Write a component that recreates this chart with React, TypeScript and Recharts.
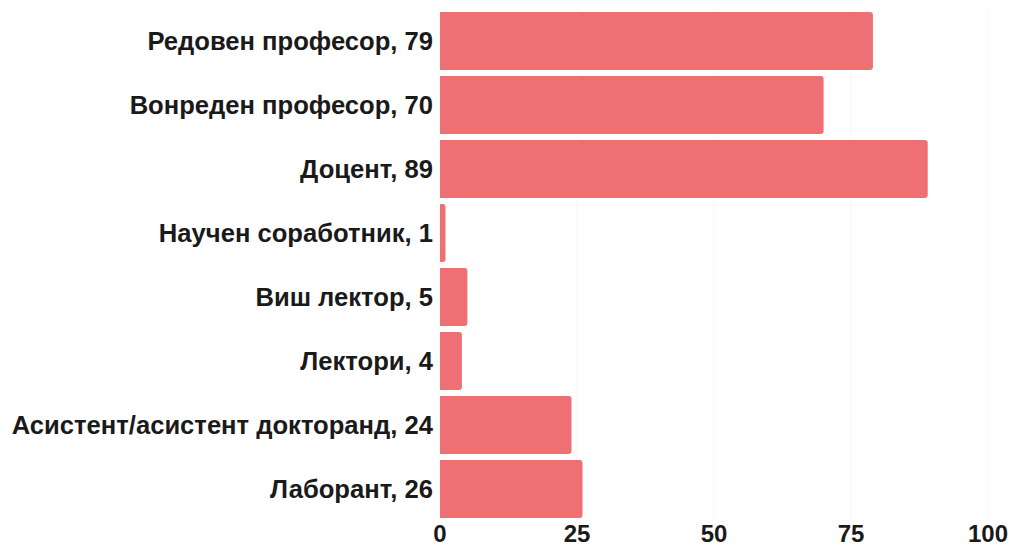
import { BarChart, Bar, XAxis, YAxis, CartesianGrid } from "recharts";

const positions = [
  "Редовен професор",
  "Вонреден професор",
  "Доцент",
  "Научен соработник",
  "Виш лектор",
  "Лектори",
  "Асистент/асистент докторанд",
  "Лаборант",
];
const counts = [79, 70, 89, 1, 5, 4, 24, 26];
const xTicks = [0, 25, 50, 75, 100];

const BAR_COLOR = "#ee6f74";
const FONT = "'Liberation Sans', Arial, sans-serif";

const rows = positions.map((p, i) => ({
  label: `${p}, ${counts[i]}`,
  value: counts[i],
}));

export default function App() {
  return (
    <div style={{ width: 1010, height: 546 }}>
      <style>{`body { margin: 0; background: #fff; }`}</style>
      <BarChart
        width={1010}
        height={546}
        data={rows}
        layout="vertical"
        margin={{ top: 9, right: 22, bottom: 0, left: 0 }}
        barCategoryGap={3}
      >
        <CartesianGrid
          horizontal={false}
          stroke="#e4e4e4"
          strokeDasharray="1 3"
        />
        <XAxis
          type="number"
          domain={[0, 100]}
          ticks={xTicks}
          axisLine={false}
          tickLine={false}
          tickSize={0}
          tickMargin={4}
          height={25}
          interval={0}
          tick={{ fontFamily: FONT, fontSize: 24, fontWeight: 700, fill: "#1a1a1a" }}
        />
        <YAxis
          type="category"
          dataKey="label"
          width={440}
          axisLine={false}
          tickLine={false}
          tickSize={0}
          tickMargin={7}
          interval={0}
          tick={{ fontFamily: FONT, fontSize: 25.6, fontWeight: 700, fill: "#1a1a1a" }}
        />
        <Bar
          dataKey="value"
          fill={BAR_COLOR}
          radius={[0, 3, 3, 0]}
          isAnimationActive={false}
        />
      </BarChart>
    </div>
  );
}
